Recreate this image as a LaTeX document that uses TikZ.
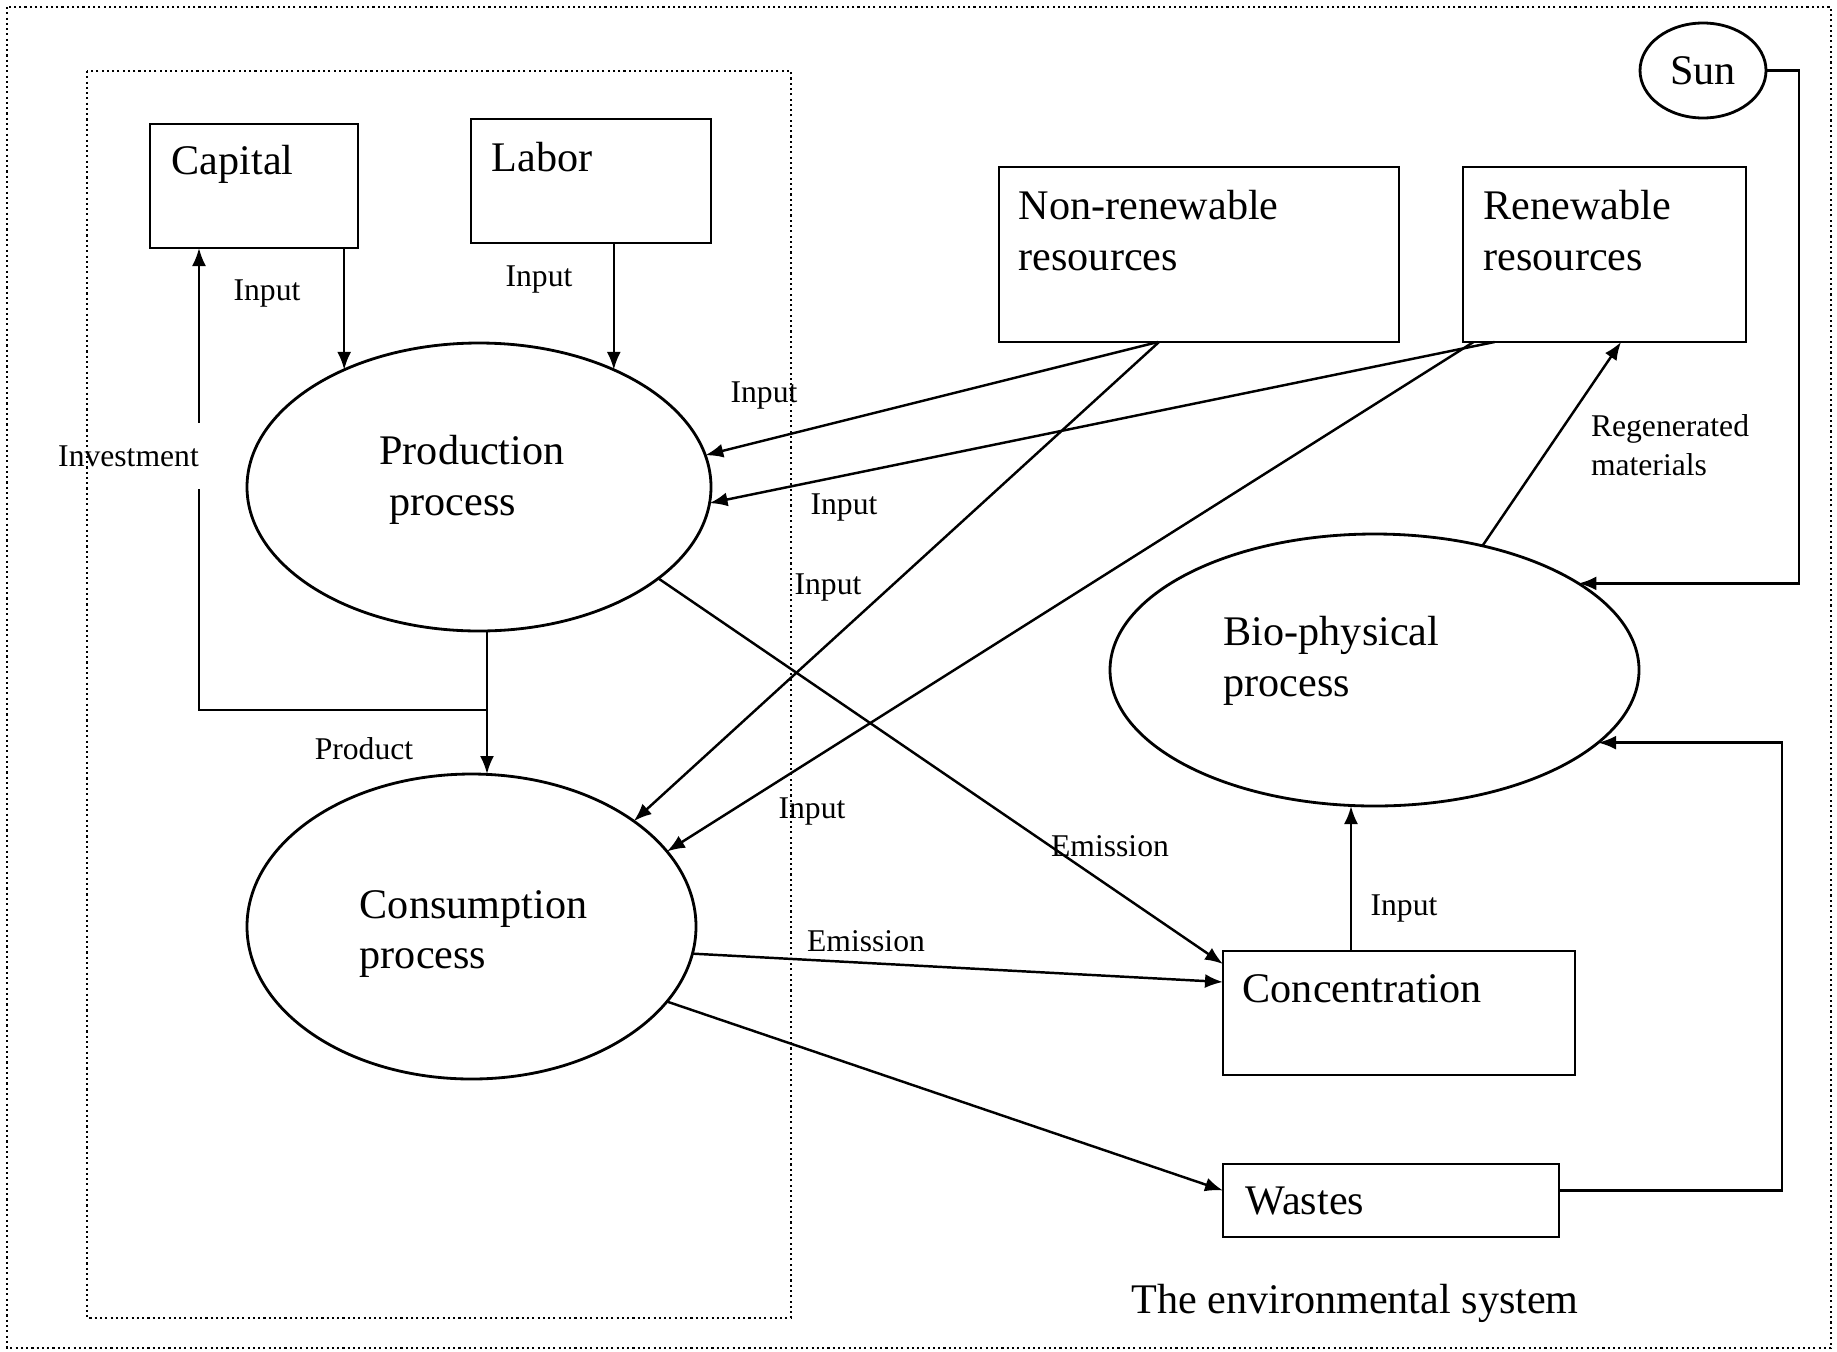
\documentclass[tikz,border=0pt]{standalone}
\usepackage{fontspec}
\setmainfont{Liberation Serif}
\usetikzlibrary{shapes.geometric, arrows.meta, positioning, calc}

\begin{document}
\begin{tikzpicture}[x=1cm, y=-1cm,
		box/.style = {draw, rectangle, line width=0.8pt, inner sep=0pt, outer sep=0pt},
		proc/.style = {draw, ellipse, line width=0.8pt, inner sep=0pt, outer sep=0pt},
		bigtxt/.style = {font=\fontsize{12}{14.5}\selectfont, inner sep=0pt, align=left},
		lbl/.style = {font=\fontsize{9}{11}\selectfont, inner sep=1pt, align=left},
		arr/.style = {-{Latex[length=1.8mm, width=1.4mm]}, line width=0.7pt},
		dotframe/.style = {line width=0.6pt, dash pattern=on 0.6pt off 0.9pt}]
				\useasboundingbox (0,0) rectangle (18.37,13.51);
				% economic side
				\node[box, minimum width=2.08cm, minimum height=1.24cm] (cap) at (2.54,1.86) {};
				\node[bigtxt, below right=0.21cm and 0.21cm of cap.north west] (captxt) {Capital};
				\node[box, minimum width=2.40cm, minimum height=1.24cm] (lab) at (5.91,1.81) {};
				\node[bigtxt, below right=0.23cm and 0.20cm of lab.north west] (labtxt) {Labor};
				\node[proc, minimum width=4.64cm, minimum height=2.88cm] (prod) at (4.79,4.87) {};
				\node[bigtxt] (prodtxt) at (4.72,4.80) {Production\\\hspace*{0.1cm}process};
				\node[proc, minimum width=4.49cm, minimum height=3.05cm] (cons) at (4.715,9.265) {};
				\node[bigtxt] (constxt) at (4.735,9.34) {Consumption\\process};
				% environmental side
				\node[box, minimum width=4.00cm, minimum height=1.75cm] (nonren) at (11.99,2.545) {};
				\node[bigtxt, below right=0.23cm and 0.19cm of nonren.north west] (nonrentxt) {Non-renewable\\resources};
				\node[box, minimum width=2.83cm, minimum height=1.75cm] (ren) at (16.045,2.545) {};
				\node[bigtxt, below right=0.23cm and 0.20cm of ren.north west] (rentxt) {Renewable\\resources};
				\node[proc, font=\fontsize{12}{14.5}\selectfont, minimum width=1.26cm, minimum height=0.95cm] (sun) at (17.03,0.705) {Sun};
				\node[proc, minimum width=5.29cm, minimum height=2.72cm] (bio) at (13.745,6.70) {};
				\node[bigtxt] (biotxt) at (13.315,6.61) {Bio-physical\\process};
				\node[box, minimum width=3.52cm, minimum height=1.24cm] (conc) at (13.99,10.13) {};
				\node[bigtxt, below right=0.23cm and 0.19cm of conc.north west] (conctxt) {Concentration};
				\node[box, minimum width=3.36cm, minimum height=0.73cm] (waste) at (13.91,12.005) {};
				\node[bigtxt, below right=0.22cm and 0.22cm of waste.north west] (wastetxt) {Wastes};
				\node[bigtxt] (envsys) at (13.55,13.03) {The environmental system};
				% flows inside the economy
				\coordinate (jct) at (4.87,7.10);
				\draw[arr] (prod.139 |- cap.south) -- (prod.139);
				\draw[arr] (prod.41 |- lab.south) -- (prod.41);
				\draw[arr] (jct |- prod.south) -- (jct |- cons.north);
				\draw[arr] (jct) -| ([xshift=0.49cm]cap.south west);
				\node[lbl, fill=white, minimum height=0.66cm] (inv) at (1.285,4.56) {Investment};
				\node[lbl] (incap) at (2.67,2.94) {Input};
				\node[lbl] (inlab) at (5.39,2.80) {Input};
				\node[lbl] (prd) at (3.64,7.49) {Product};
				% resources in
				\draw[arr] ([xshift=-0.41cm]nonren.south) -- (prod.8);
				\draw[arr] ([xshift=-1.10cm]ren.south) -- (prod.-4);
				\draw[arr] ([xshift=-0.40cm]nonren.south) -- (cons.33);
				\draw[arr] ([xshift=-1.31cm]ren.south) -- (cons.21);
				\node[lbl] (in1) at (7.64,3.96) {Input};
				\node[lbl] (in2) at (8.44,5.08) {Input};
				\node[lbl] (in3) at (8.28,5.87) {Input};
				\node[lbl] (in4) at (8.12,8.11) {Input};
				% emissions and wastes out
				\draw[arr] (prod.-27) -- ([yshift=-0.13cm]conc.north west);
				\draw[arr] (cons.-7) -- ([yshift=0.31cm]conc.west);
				\draw[arr] (cons.-21) -- ([yshift=0.10cm]waste.west);
				\node[lbl] (em1) at (11.10,8.46) {Emission};
				\node[lbl] (em2) at (8.66,9.41) {Emission};
				% nature
				\draw[arr] ([xshift=1.28cm]conc.north west) coordinate (cup) -- (cup |- bio.south);
				\draw[arr] ([yshift=0.10cm]waste.east) -- ++(2.23,0) |- (bio.-18);
				\draw[arr] (sun.east) -- ++(0.33,0) |- (bio.23);
				\draw[arr] (bio.49) -- ([xshift=0.165cm]ren.south);
				\node[lbl] (inconc) at (14.04,9.08) {Input};
				\node[lbl] (regen) at (16.70,4.45) {Regenerated\\materials};
				% system borders
				\draw[dotframe] (0.07,0.07) rectangle (18.31,13.48);
				\draw[dotframe] (0.87,0.71) rectangle (7.91,13.18);
\end{tikzpicture}
\end{document}
